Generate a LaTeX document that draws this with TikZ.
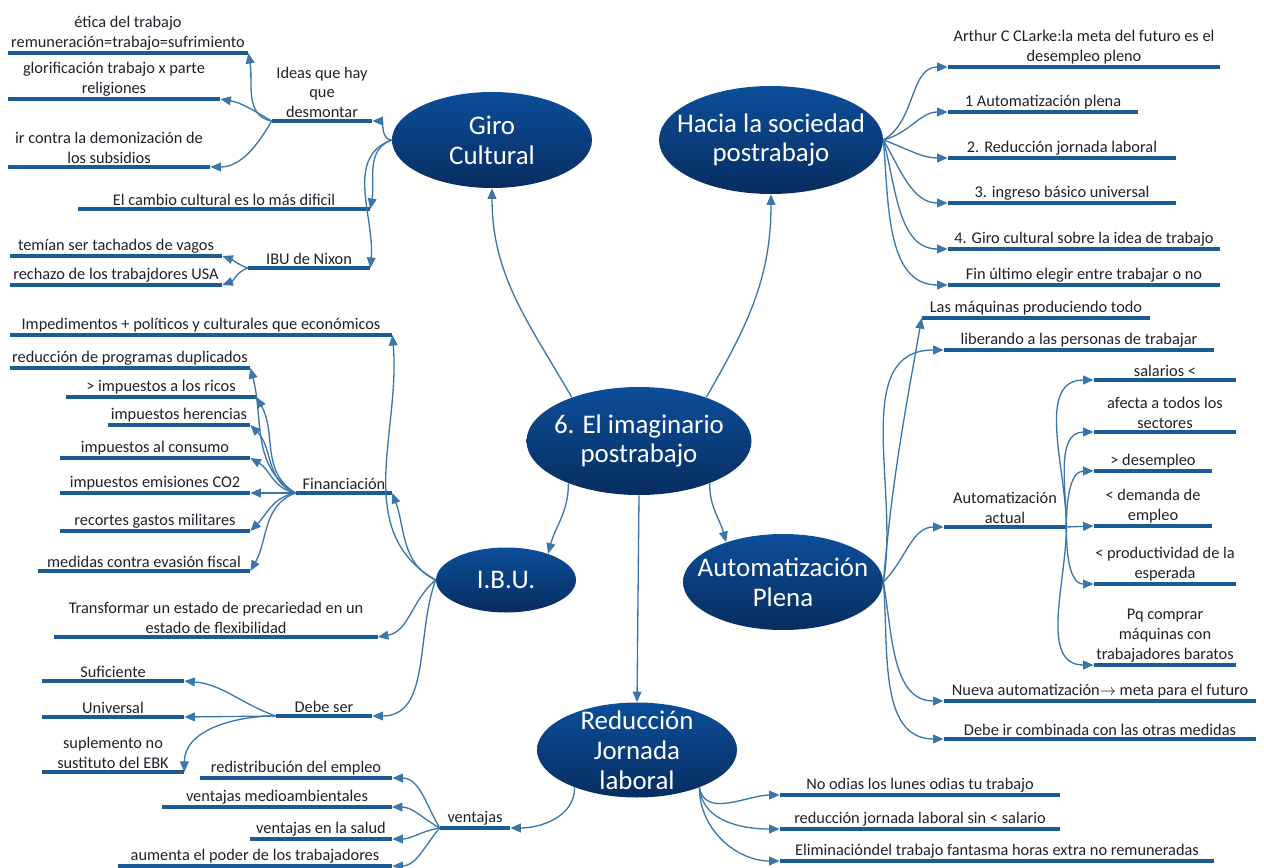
\documentclass[tikz,border=0pt]{standalone}
\usepackage{fontspec}
\setmainfont{Carlito}
\usepackage{xcolor}
\usetikzlibrary{arrows.meta}
\usetikzlibrary{shapes.geometric}

\definecolor{bleuhaut}{HTML}{0C4E9A}
\definecolor{bleubas}{HTML}{082D60}
\definecolor{bleutrait}{HTML}{1C5C94}
\definecolor{bleufleche}{HTML}{3A76AA}
\definecolor{texte}{HTML}{231F2A}

\begin{document}
\begin{tikzpicture}[x=0.02cm,y=-0.02cm,
    font=\fontsize{9.3}{11.3}\selectfont,
    bulle/.style={ellipse, top color=bleuhaut, bottom color=bleubas, draw=none, inner sep=0pt},
    taille/.style 2 args={minimum width=#1*0.02cm, minimum height=#2*0.02cm},
    txtbulle/.style={text=white, align=center, font=\fontsize{15.3}{17}\selectfont},
    trait/.style={draw=bleutrait, line width=2.5pt},
    feuille/.style={anchor=south, align=center, inner xsep=0pt, inner ysep=1.6pt, text=texte,
        append after command={(\tikzlastnode.south west) edge[trait] (\tikzlastnode.south east)}},
    larg/.style={minimum width=#1*0.02cm},
    fleche/.style={draw=bleufleche, line width=0.75pt, -{Triangle[length=6pt,width=5pt]}}]
    \useasboundingbox (0,0) rectangle (1264,868);

    % les bulles
    \node[bulle, taille={225}{108}] (imag) at (639,441) {};
    \node[txtbulle] (t-imag) at (imag) {6. El imaginario\\postrabajo};
    \node[bulle, taille={200}{96}] (giro) at (492,140) {};
    \node[txtbulle] (t-giro) at (giro) {Giro\\Cultural};
    \node[bulle, taille={224}{108}] (hacia) at (771,140) {};
    \node[txtbulle] (t-hacia) at (hacia) {Hacia la sociedad\\postrabajo};
    \node[bulle, taille={140}{65}] (ibu) at (506,580) {};
    \node[txtbulle] (t-ibu) at (ibu) {I.B.U.};
    \node[bulle, taille={200}{96}] (autom) at (783,582) {};
    \node[txtbulle] (t-autom) at (autom) {Automatización\\Plena};
    \node[bulle, taille={200}{95}] (reduc) at (637,750) {};
    \node[txtbulle] (t-reduc) at (reduc) {Reducción\\Jornada\\laboral};

    % centre vers bulles
    \draw[fleche] (imag.147) to[out=120, in=-90] (giro.south);
    \draw[fleche] (imag.33) to[out=60, in=-90] (hacia.south);
    \draw[fleche] (imag.211) to[out=-90, in=75] (ibu.32);
    \draw[fleche] (imag.-31) to[out=-90, in=105] (autom.145);
    \draw[fleche] (imag.south) -- (reduc.north);

    % Giro cultural
    \node[feuille, larg=100] (ideas) at (322,121) {Ideas que hay\\que\\desmontar};
    \node[feuille, larg=240] (etica) at (128,53) {ética del trabajo\\remuneración=trabajo=sufrimiento};
    \node[feuille, larg=212] (glorif) at (114,99) {glorificación trabajo x parte\\religiones};
    \node[feuille, larg=202] (subsid) at (109,167) {ir contra la demonización de\\los subsidios};
    \node[feuille, larg=292] (cambio) at (224,209) {El cambio cultural es lo más dificil};
    \node[feuille, larg=122] (nixon) at (309,268) {IBU de Nixon};
    \node[feuille, larg=212] (temian) at (116,256) {temían ser tachados de vagos};
    \node[feuille, larg=212] (rechazo) at (116,285) {rechazo de los trabajdores USA};
    \draw[fleche] (giro.west) to[out=180, in=0] (ideas.south east);
    \draw[fleche] (giro.west) to[out=200, in=80] (cambio.south east);
    \draw[fleche] (giro.west) to[out=200, in=85] (nixon.south east);
    \draw[fleche] (ideas.south west) to[out=170, in=-80] (etica.south east);
    \draw[fleche] (ideas.south west) to[out=150, in=-10] (glorif.south east);
    \draw[fleche] (ideas.south west) to[out=240, in=0] (subsid.south east);
    \draw[fleche] (nixon.south west) to[out=160, in=-20] (temian.south east);
    \draw[fleche] (nixon.south west) to[out=200, in=20] (rechazo.south east);

    % Hacia la sociedad postrabajo
    \node[feuille, larg=272] (clarke) at (1084,67) {Arthur C CLarke:la meta del futuro es el\\desempleo pleno};
    \node[feuille, larg=190] (auto1) at (1043,112) {1 Automatización plena};
    \node[feuille, larg=228] (reduc2) at (1062,158) {2. Reducción jornada laboral};
    \node[feuille, larg=228] (ingreso3) at (1062,203) {3. ingreso básico universal};
    \node[feuille, larg=272] (giro4) at (1084,249) {4. Giro cultural sobre la idea de trabajo};
    \node[feuille, larg=272] (fin) at (1084,285) {Fin último elegir entre trabajar o no};
    \draw[fleche] (hacia.east) to[out=30, in=180] (clarke.south west);
    \draw[fleche] (hacia.east) to[out=15, in=180] (auto1.south west);
    \draw[fleche] (hacia.east) to[out=-20, in=180] (reduc2.south west);
    \draw[fleche] (hacia.east) to[out=-60, in=180] (ingreso3.south west);
    \draw[fleche] (hacia.east) to[out=-75, in=180] (giro4.south west);
    \draw[fleche] (hacia.east) to[out=-85, in=180] (fin.south west);

    % I.B.U.
    \node[feuille, larg=382] (imped) at (201,335) {Impedimentos + políticos y culturales que económicos};
    \node[feuille, larg=96] (financ) at (344,493) {Financiación};
    \node[feuille, larg=240] (dupl) at (130,368) {reducción de programas duplicados};
    \node[feuille, larg=190] (ricos) at (161,397) {> impuestos a los ricos};
    \node[feuille, larg=142] (heren) at (179,425) {impuestos herencias};
    \node[feuille, larg=190] (consumo) at (155,458) {impuestos al consumo};
    \node[feuille, larg=190] (emis) at (155,493) {impuestos emisiones CO2};
    \node[feuille, larg=190] (milit) at (155,531) {recortes gastos militares};
    \node[feuille, larg=212] (evasion) at (144,571) {medidas contra evasión fiscal};
    \node[feuille, larg=323] (transf) at (216,637) {Transformar un estado de precariedad en un\\estado de flexibilidad};
    \node[feuille, larg=96] (debeser) at (324,716) {Debe ser};
    \node[feuille, larg=142] (sufic) at (113,681) {Suficiente};
    \node[feuille, larg=142] (univ) at (113,717) {Universal};
    \node[feuille, larg=142] (suplem) at (113,772) {suplemento no\\sustituto del EBK};
    \draw[fleche] (ibu.west) to[out=150, in=-85] (imped.south east);
    \draw[fleche] (ibu.west) to[out=155, in=-70] (financ.south east);
    \draw[fleche] (ibu.west) to[out=220, in=10] (transf.south east);
    \draw[fleche] (ibu.west) to[out=250, in=0] (debeser.south east);
    \draw[fleche] (financ.south west) to[out=150, in=-75] (dupl.south east);
    \draw[fleche] (financ.south west) to[out=150, in=-60] (ricos.south east);
    \draw[fleche] (financ.south west) to[out=160, in=-45] (heren.south east);
    \draw[fleche] (financ.south west) to[out=170, in=-30] (consumo.south east);
    \draw[fleche] (financ.south west) -- (emis.south east);
    \draw[fleche] (financ.south west) to[out=190, in=45] (milit.south east);
    \draw[fleche] (financ.south west) to[out=200, in=60] (evasion.south east);
    \draw[fleche] (debeser.south west) to[out=160, in=-5] (sufic.south east);
    \draw[fleche] (debeser.south west) -- (univ.south east);
    \draw[fleche] (debeser.south west) to[out=180, in=90] (suplem.south east);

    % Automatización plena
    \node[feuille, larg=228] (maquinas) at (1036,318) {Las máquinas produciendo todo};
    \node[feuille, larg=270] (liberando) at (1079,350) {liberando a las personas de trabajar};
    \node[feuille, larg=122] (actual) at (1005,527) {Automatización\\actual};
    \node[feuille, larg=142] (salarios) at (1165,380) {salarios <};
    \node[feuille, larg=142] (afecta) at (1165,432) {afecta a todos los\\sectores};
    \node[feuille, larg=118] (desemp) at (1153,471) {> desempleo};
    \node[feuille, larg=118] (demanda) at (1153,526) {< demanda de\\empleo};
    \node[feuille, larg=142] (product) at (1165,584) {< productividad de la\\esperada};
    \node[feuille, larg=142] (pq) at (1165,665) {Pq comprar\\máquinas con\\trabajadores baratos};
    \node[feuille, larg=312] (nueva) at (1100,701) {Nueva automatización$\rightarrow$ meta para el futuro};
    \node[feuille, larg=312] (debeir) at (1100,739) {Debe ir combinada con las otras medidas};
    \draw[fleche] (autom.east) to[out=85, in=-100] (maquinas.south west);
    \draw[fleche] (autom.east) to[out=80, in=180] (liberando.south west);
    \draw[fleche] (autom.east) to[out=45, in=180] (actual.south west);
    \draw[fleche] (autom.east) to[out=-80, in=180] (nueva.south west);
    \draw[fleche] (autom.east) to[out=-85, in=180] (debeir.south west);
    \draw[fleche] (actual.south east) to[out=90, in=180] (salarios.south west);
    \draw[fleche] (actual.south east) to[out=90, in=180] (afecta.south west);
    \draw[fleche] (actual.south east) to[out=90, in=180] (desemp.south west);
    \draw[fleche] (actual.south east) -- (demanda.south west);
    \draw[fleche] (actual.south east) to[out=-90, in=180] (product.south west);
    \draw[fleche] (actual.south east) to[out=-90, in=180] (pq.south west);

    % Reducción jornada laboral
    \node[feuille, larg=70] (ventajas) at (475,828) {ventajas};
    \node[feuille, larg=192] (redis) at (296,778) {redistribución del empleo};
    \node[feuille, larg=229] (medio) at (277,807) {ventajas medioambientales};
    \node[feuille, larg=142] (salud) at (321,839) {ventajas en la salud};
    \node[feuille, larg=274] (poder) at (255,866) {aumenta el poder de los trabajadores};
    \node[feuille, larg=280] (lunes) at (920,795) {No odias los lunes odias tu trabajo};
    \node[feuille, larg=280] (salario) at (920,829) {reducción jornada laboral sin < salario};
    \node[feuille, larg=434] (fantasma) at (997,861) {Eliminacióndel trabajo fantasma horas extra no remuneradas};
    \draw[fleche] (reduc.211) to[out=-90, in=0] (ventajas.south east);
    \draw[fleche] (ventajas.south west) to[out=120, in=0] (redis.south east);
    \draw[fleche] (ventajas.south west) to[out=150, in=0] (medio.south east);
    \draw[fleche] (ventajas.south west) to[out=190, in=0] (salud.south east);
    \draw[fleche] (ventajas.south west) to[out=230, in=0] (poder.south east);
    \draw[fleche] (reduc.-31) to[out=-80, in=180] (lunes.south west);
    \draw[fleche] (reduc.-31) to[out=-85, in=180] (salario.south west);
    \draw[fleche] (reduc.-31) to[out=-90, in=180] (fantasma.south west);
\end{tikzpicture}
\end{document}
